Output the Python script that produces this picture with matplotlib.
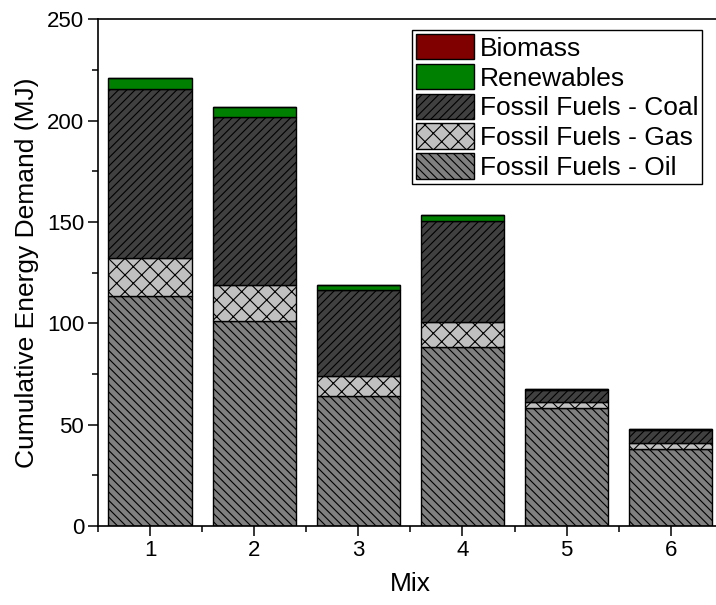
import matplotlib.pyplot as plt
from matplotlib.ticker import MultipleLocator

plt.rcParams['font.family'] = ['Liberation Sans', 'DejaVu Sans']
plt.rcParams['hatch.linewidth'] = 0.8

# Daten (MJ) fuer jede Mischung
mixes = [1, 2, 3, 4, 5, 6]
oil = [113.4, 101.0, 64.4, 88.3, 58.0, 38.0]
gas = [18.8, 17.7, 9.6, 12.3, 3.2, 2.8]
coal = [83.4, 83.1, 42.3, 50.1, 6.1, 6.8]
renewables = [5.7, 4.8, 2.4, 3.0, 0.3, 0.3]
biomass = [0, 0, 0, 0, 0, 0]

fig = plt.figure(figsize=(7.16, 6.05), dpi=100)
ax = fig.add_axes([0.1369, 0.1306, 0.8726, 0.8372])

w = 0.8
bottom = [0] * len(mixes)
capas = [
    (oil, 'Fossil Fuels - Oil', '#808080', '\\\\\\\\'),
    (gas, 'Fossil Fuels - Gas', '#c0c0c0', 'xx'),
    (coal, 'Fossil Fuels - Coal', '#404040', '////'),
    (renewables, 'Renewables', '#008000', None),
    (biomass, 'Biomass', '#800000', None),
]
for vals, nombre, col, hatch in capas:
    ax.bar(mixes, vals, w, bottom=bottom, color=col, edgecolor='black',
           linewidth=1.0, hatch=hatch, label=nombre)
    bottom = [a + v for a, v in zip(bottom, vals)]

ax.set_xlim(0.5, 6.5)
ax.set_ylim(0, 250)
ax.set_xticks(mixes)
ax.xaxis.set_minor_locator(MultipleLocator(0.5))
ax.yaxis.set_major_locator(MultipleLocator(50))
ax.yaxis.set_minor_locator(MultipleLocator(25))
ax.tick_params(which='major', direction='out', length=7, width=1.1,
               labelsize=16, pad=3)
ax.tick_params(which='minor', direction='out', length=4, width=1.1)
for s in ax.spines.values():
    s.set_linewidth(1.2)

ax.set_xlabel('Mix', fontsize=19, labelpad=8)
ax.set_ylabel('Cumulative Energy Demand (MJ)', fontsize=19, labelpad=6)

h, l = ax.get_legend_handles_labels()
leg = ax.legend(h[::-1], l[::-1], loc='upper right', bbox_to_anchor=(0.967, 0.979),
                borderaxespad=0, fontsize=19, fancybox=False, framealpha=1,
                edgecolor='black', handlelength=2.2, handleheight=1.1,
                labelspacing=0.12, borderpad=0.15, handletextpad=0.2)
leg.get_frame().set_linewidth(1.0)

fig.savefig('out.png', dpi=100)
